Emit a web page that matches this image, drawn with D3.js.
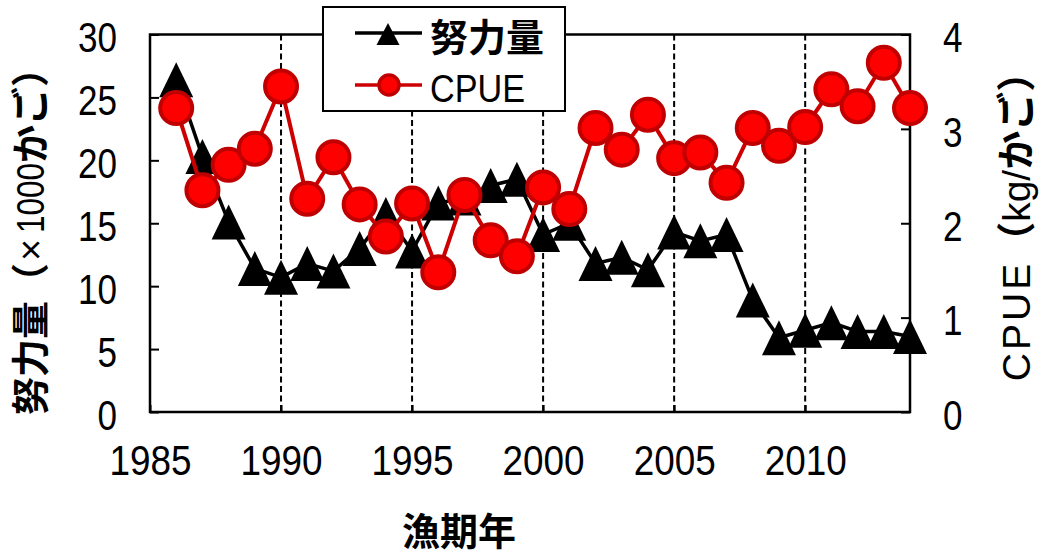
<!DOCTYPE html>
<html><head><meta charset="utf-8">
<script src="https://cdn.jsdelivr.net/npm/d3@7"></script>
<style>
body{margin:0;background:#fff;}
svg{display:block;}
.num{font-family:"Liberation Sans",Arial,sans-serif;font-size:42px;fill:#000;}
.cjk{font-family:"Noto Sans CJK JP",sans-serif;font-weight:700;}
.lat{font-family:"Liberation Sans",Arial,sans-serif;}
</style></head>
<body>
<div id="chart"></div>
<script>
const years = [1986,1987,1988,1989,1990,1991,1992,1993,1994,1995,1996,1997,1998,1999,2000,2001,2002,2003,2004,2005,2006,2007,2008,2009,2010,2011,2012,2013,2014];
const effort = [26.4,20.3,15.1,11.4,10.7,11.8,11.2,13.0,15.7,12.8,16.6,17.0,18.0,18.5,14.1,15.0,11.8,12.3,11.3,14.3,13.6,14.1,8.9,5.9,6.5,7.1,6.4,6.4,6.0];
const cpue = [3.22,2.35,2.62,2.79,3.45,2.26,2.70,2.20,1.86,2.21,1.48,2.30,1.82,1.65,2.38,2.15,3.01,2.78,3.15,2.69,2.75,2.43,3.01,2.82,3.02,3.42,3.24,3.70,3.22];
const xTicks = [1985,1990,1995,2000,2005,2010];
const gridYears = [1990,1995,2000,2005,2010];
const leftTicks = [0,5,10,15,20,25,30];
const rightTicks = [0,1,2,3,4];
const effortName = "努力量";
const cpueName = "CPUE";
const xTitle = "漁期年";

const W = 1040, H = 558;
const L = 150, R = 910, T = 34.5, B = 412;

const svg = d3.select("#chart").append("svg").attr("width", W).attr("height", H);

const x = d3.scaleLinear().domain([1985, 2014]).range([L, R]);
const yL = d3.scaleLinear().domain([0, 30]).range([B, T]);
const yR = d3.scaleLinear().domain([0, 4]).range([B, T]);

// dashed gridlines
svg.append("g").selectAll("line").data(gridYears).join("line")
  .attr("x1", d => x(d)).attr("x2", d => x(d))
  .attr("y1", T).attr("y2", B)
  .attr("stroke", "#000").attr("stroke-width", 2).attr("stroke-dasharray", "6,3.5");

// axes
const gL = svg.append("g").attr("transform", `translate(${L},0)`)
  .call(d3.axisLeft(yL).tickValues(leftTicks).tickSize(-9).tickPadding(33));
const gR = svg.append("g").attr("transform", `translate(${R},0)`)
  .call(d3.axisRight(yR).tickValues(rightTicks).tickSize(-9).tickPadding(33).tickFormat(d3.format("d")));
const gB = svg.append("g").attr("transform", `translate(0,${B})`)
  .call(d3.axisBottom(x).tickValues(xTicks).tickSize(-7).tickPadding(0).tickFormat(d3.format("d")));
[gL, gR, gB].forEach(g => {
  g.select(".domain").remove();
  g.selectAll(".tick line").attr("stroke", "#000").attr("stroke-width", 2);
  g.selectAll(".tick text").attr("class", "num").attr("font-family", null).attr("font-size", null)
    .attr("lengthAdjust", "spacingAndGlyphs")
    .attr("textLength", function() { return this.textContent.length * 19.5; });
});
gL.selectAll(".tick text").attr("dy", "0.36em").attr("y", 2);
gR.selectAll(".tick text").attr("dy", "0.36em").attr("y", 2);
gB.selectAll(".tick text").attr("y", 48).attr("dy", "0.36em")
  .attr("textLength", function() { return this.textContent.length * 20.5; });

// frame
svg.append("rect").attr("x", L).attr("y", T).attr("width", R - L).attr("height", B - T)
  .attr("fill", "none").attr("stroke", "#000").attr("stroke-width", 2.5);

const data = years.map((yr, i) => ({yr, e: effort[i], c: cpue[i]}));
const tri = "M0,-17.5L17,17.5L-17,17.5Z";

// effort series
svg.append("path").datum(data)
  .attr("d", d3.line().x(d => x(d.yr)).y(d => yL(d.e)))
  .attr("fill", "none").attr("stroke", "#000").attr("stroke-width", 3.5);
svg.append("g").selectAll("path").data(data).join("path")
  .attr("d", tri).attr("transform", d => `translate(${x(d.yr)},${yL(d.e)})`).attr("fill", "#000");

// cpue series
svg.append("path").datum(data)
  .attr("d", d3.line().x(d => x(d.yr)).y(d => yR(d.c)))
  .attr("fill", "none").attr("stroke", "#cc0000").attr("stroke-width", 4);
svg.append("g").selectAll("circle").data(data).join("circle")
  .attr("cx", d => x(d.yr)).attr("cy", d => yR(d.c)).attr("r", 16)
  .attr("fill", "#ff0000").attr("stroke", "#c00000").attr("stroke-width", 4);

// axis titles
svg.append("text").attr("transform", "translate(30,232) rotate(-90)")
  .attr("text-anchor", "middle").attr("dy", "0.36em").attr("font-size", 38)
  .html('<tspan class="cjk">努力量（</tspan><tspan class="lat" dx="2">×</tspan><tspan class="num" dx="6" style="font-size:38px" textLength="70" lengthAdjust="spacingAndGlyphs">1000</tspan><tspan class="cjk">かご）</tspan>');
svg.append("text").attr("transform", "translate(1016,217) rotate(-90)")
  .attr("text-anchor", "middle").attr("dy", "0.36em").attr("font-size", 39)
  .html('<tspan class="lat" letter-spacing="3">CPUE</tspan><tspan class="cjk">（</tspan><tspan class="lat">kg/</tspan><tspan class="cjk">かご）</tspan>');
svg.append("text").attr("x", 459).attr("y", 531).attr("dy", "0.36em")
  .attr("text-anchor", "middle").attr("class", "cjk").attr("font-size", 38).text(xTitle);

// legend
const lg = svg.append("g");
lg.append("rect").attr("x", 323).attr("y", 7).attr("width", 242).attr("height", 104)
  .attr("fill", "#fff").attr("stroke", "#000").attr("stroke-width", 2);
lg.append("line").attr("x1", 355).attr("x2", 422).attr("y1", 33).attr("y2", 33)
  .attr("stroke", "#000").attr("stroke-width", 3.5);
lg.append("path").attr("d", "M0,-11L11.5,11L-11.5,11Z").attr("transform", "translate(388,34)").attr("fill", "#000");
lg.append("text").attr("x", 430).attr("y", 37).attr("dy", "0.36em").attr("class", "cjk")
  .attr("font-size", 38).text(effortName);
lg.append("line").attr("x1", 355).attr("x2", 422).attr("y1", 85).attr("y2", 85)
  .attr("stroke", "#cc0000").attr("stroke-width", 3.5);
lg.append("circle").attr("cx", 389).attr("cy", 85).attr("r", 10)
  .attr("fill", "#ff0000").attr("stroke", "#c00000").attr("stroke-width", 3.5);
lg.append("text").attr("x", 430).attr("y", 88).attr("dy", "0.36em").attr("class", "lat")
  .attr("font-size", 39).attr("textLength", 95).attr("lengthAdjust", "spacingAndGlyphs").text(cpueName);
</script>
</body></html>
